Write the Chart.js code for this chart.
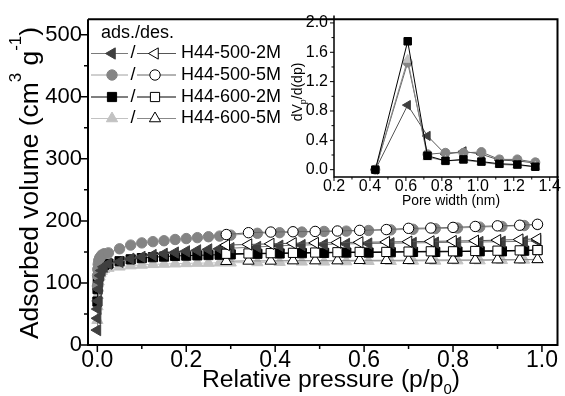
<!DOCTYPE html>
<html>
<head>
<meta charset="utf-8">
<script src="https://cdn.jsdelivr.net/npm/chart.js@4/dist/chart.umd.min.js"></script>
<style>
  html, body { margin: 0; padding: 0; background: #fff; }
  #wrap { position: relative; width: 565px; height: 396px; overflow: hidden; }
  #main { position: absolute; left: 0; top: 0; }
  #inset { position: absolute; left: 280px; top: 0; }
</style>
</head>
<body>
<div id="wrap">
  <canvas id="main" width="565" height="396"></canvas>
  <canvas id="inset" width="285" height="215"></canvas>
</div>
<script>
const FONT = "'Liberation Sans', Arial, sans-serif";
Chart.defaults.font.family = FONT;
Chart.defaults.color = '#000';

// Isotherm: relative pressure (p/p0)
const adsP = [0.0002, 0.0005, 0.001, 0.002, 0.003, 0.005, 0.007, 0.01, 0.015, 0.025, 0.05, 0.075,
  0.10, 0.125, 0.15, 0.175, 0.20, 0.225, 0.25, 0.275, 0.30, 0.36, 0.41, 0.46, 0.51, 0.56,
  0.61, 0.66, 0.71, 0.76, 0.81, 0.86, 0.91, 0.96, 0.99];
const desP = [0.99, 0.95, 0.90, 0.85, 0.80, 0.75, 0.70, 0.65, 0.59, 0.54, 0.49, 0.44, 0.39, 0.34, 0.29];

// Adsorbed volume (cm3/g), adsorption branch
const ads500_2M = [24, 43, 58, 71, 90, 102, 112, 120, 126, 131, 134, 139, 142, 145, 147, 149, 151, 152.5,
  154, 155, 156, 158, 160, 161, 162, 163, 163.5, 164, 164.5, 165, 165.5, 166, 166.5, 167, 168];
const ads500_5M = [95, 112, 122, 130, 136, 140, 142, 145, 147, 148.5, 155, 161, 164.5, 166.5, 168, 170,
  171.5, 173, 174.5, 175.5, 177, 180, 181, 182, 183, 183.5, 184.5, 185.5, 186.5, 187.5, 188.5, 190, 191, 192.5, 194];
const ads600_2M = [70, 90, 102, 110, 115, 120, 123, 126, 129, 131, 135, 138, 140, 141.5, 142.5, 143.5, 144,
  144.5, 145, 145.5, 146, 147, 147.5, 148, 148.5, 149, 149, 149.5, 150, 150, 150.5, 151, 151, 152, 153];
const ads600_5M = [40, 62, 80, 92, 102, 110, 115, 119, 122, 124, 126, 128, 129, 130, 130.5, 131, 131.5,
  132, 132, 132.5, 132.5, 133, 133.5, 134, 134, 134.5, 135, 135, 135.5, 135.5, 136, 136, 136.5, 137, 137.5];

// desorption branch
const des500_2M = [171, 170, 169, 168, 167.5, 167, 166.5, 166, 165.5, 165, 164.5, 164, 163, 162, 161];
const des500_5M = [194.5, 193, 192, 191, 189.5, 188.5, 188, 186, 184.7, 183.7, 183, 182.5, 182, 181, 178];
const des600_2M = [153, 152.5, 152, 151.5, 151, 151, 150.5, 150, 150, 149.5, 149, 148.5, 148, 147.5, 147];
const des600_5M = [138, 137.5, 137.5, 137, 137, 137, 136.5, 136.5, 136.5, 136, 136, 136, 135.5, 135.5, 135];

// Pore size distribution (inset)
const poreW = [0.43, 0.61, 0.72, 0.82, 0.92, 1.02, 1.12, 1.22, 1.32];
const psd500_2M = [0.00, 0.88, 0.46, 0.21, 0.25, 0.21, 0.13, 0.12, 0.09];
const psd500_5M = [0.00, 1.46, 0.21, 0.23, 0.23, 0.24, 0.14, 0.14, 0.10];
const psd600_2M = [0.00, 1.75, 0.19, 0.12, 0.14, 0.11, 0.08, 0.07, 0.04];
const psd600_5M = [0.00, 1.50, 0.17, 0.12, 0.13, 0.10, 0.07, 0.06, 0.04];

const names = ['H44-500-2M', 'H44-500-5M', 'H44-600-2M', 'H44-600-5M'];

// ticks
const xTicks = [0, 0.2, 0.4, 0.6, 0.8, 1.0];
const xMinor = [0.1, 0.3, 0.5, 0.7, 0.9];
const yTicks = [0, 100, 200, 300, 400, 500];
const yMinor = [50, 150, 250, 350, 450];
const poreTicks = [0.2, 0.4, 0.6, 0.8, 1.0, 1.2, 1.4];
const poreMinor = [0.3, 0.5, 0.7, 0.9, 1.1, 1.3];
const psdTicks = [0, 0.4, 0.8, 1.2, 1.6, 2.0];
const psdMinor = [0.2, 0.6, 1.0, 1.4, 1.8];

const adsAll = [ads500_2M, ads500_5M, ads600_2M, ads600_5M];
const desAll = [des500_2M, des500_5M, des600_2M, des600_5M];
const psdAll = [psd500_2M, psd500_5M, psd600_2M, psd600_5M];

const styles = [
  { fill: '#3f3f3f', line: '#7a7a7a', desLine: '#555', shape: 'triangle', rot: -90, r: 6.5 },
  { fill: '#848484', line: '#a0a0a0', desLine: '#666', shape: 'circle', rot: 0, r: 5.2 },
  { fill: '#000000', line: '#000000', desLine: '#000', shape: 'rect', rot: 0, r: 6.5 },
  { fill: '#c2c2c2', line: '#c2c2c2', desLine: '#888', shape: 'triangle', rot: 0, r: 6.5 }
];

function pts(xs, ys) { return xs.map((x, i) => ({ x: x, y: ys[i] })); }

function drawMarker(ctx, s, x, y, r, open) {
  ctx.save();
  ctx.fillStyle = open ? '#fff' : s.fill;
  ctx.strokeStyle = open ? '#000' : s.fill;
  ctx.lineWidth = 1;
  Chart.helpers.drawPoint(ctx, { pointStyle: s.shape, rotation: s.rot, radius: r, borderWidth: 1 }, x, y);
  ctx.restore();
}

// text with super/subscripts, optionally stretched to a target width
function drawRich(ctx, parts, cx, cy, size, rotate, targetW) {
  ctx.save();
  ctx.fillStyle = '#000';
  ctx.textBaseline = 'alphabetic';
  ctx.textAlign = 'left';
  let W = 0;
  const ws = parts.map(p => {
    ctx.font = (p[1] ? Math.round(size * 0.62) : size) + 'px ' + FONT;
    const w = ctx.measureText(p[0]).width;
    W += w;
    return w;
  });
  const k = targetW ? targetW / W : 1;
  ctx.translate(cx, cy);
  if (rotate) ctx.rotate(-Math.PI / 2);
  ctx.scale(k, 1);
  let x = -W / 2;
  parts.forEach((p, i) => {
    ctx.font = (p[1] ? Math.round(size * 0.62) : size) + 'px ' + FONT;
    const dy = p[1] === 'sup' ? -size * 0.68 : p[1] === 'sub' ? size * 0.3 : 0;
    ctx.fillText(p[0], x, dy);
    x += ws[i];
  });
  ctx.restore();
}

function axisDecor(chart, o) {
  const ctx = chart.ctx;
  const a = chart.chartArea;
  const xs = chart.scales.x, ys = chart.scales.y;
  ctx.save();
  ctx.strokeStyle = '#000';
  ctx.lineWidth = o.frameW;
  ctx.beginPath();
  ctx.moveTo(a.left, a.top);
  ctx.lineTo(a.left, a.bottom);
  ctx.lineTo(a.right, a.bottom);
  if (o.box) {
    ctx.lineTo(a.right, a.top);
    ctx.lineTo(a.left, a.top);
  }
  ctx.stroke();
  ctx.lineWidth = o.tickW;
  ctx.beginPath();
  o.xMajor.forEach(v => { const p = xs.getPixelForValue(v); ctx.moveTo(p, a.bottom); ctx.lineTo(p, a.bottom + o.major); });
  o.xMinor.forEach(v => { const p = xs.getPixelForValue(v); ctx.moveTo(p, a.bottom); ctx.lineTo(p, a.bottom + o.minor); });
  o.yMajor.forEach(v => { const p = ys.getPixelForValue(v); ctx.moveTo(a.left, p); ctx.lineTo(a.left - o.major, p); });
  o.yMinor.forEach(v => { const p = ys.getPixelForValue(v); ctx.moveTo(a.left, p); ctx.lineTo(a.left - o.minor, p); });
  ctx.stroke();
  ctx.restore();
}

const mainDecor = {
  id: 'mainDecor',
  afterDraw(chart) {
    const ctx = chart.ctx;
    axisDecor(chart, { frameW: 2, tickW: 1.5, major: 7, minor: 4, box: true,
      xMajor: xTicks, xMinor: xMinor, yMajor: yTicks, yMinor: yMinor });

    drawRich(ctx, [['Relative pressure (p/p'], ['0', 'sub'], [')']], 331, 387, 23, false, 258);
    drawRich(ctx, [['Adsorbed volume (cm'], ['3', 'sup'], [' g'], ['-1', 'sup'], [')']], 38, 183, 25, true, 312);

    // legend
    ctx.save();
    ctx.font = '18px ' + FONT;
    ctx.fillStyle = '#000';
    ctx.textBaseline = 'middle';
    ctx.textAlign = 'left';
    ctx.fillText('ads./des.', 101, 33);
    const rows = [53.5, 75, 97, 118.5];
    rows.forEach((y, i) => {
      const s = styles[i];
      ctx.lineWidth = 1;
      ctx.strokeStyle = s.line;
      ctx.beginPath(); ctx.moveTo(91, y); ctx.lineTo(128, y); ctx.stroke();
      ctx.strokeStyle = s.desLine;
      ctx.beginPath(); ctx.moveTo(137, y); ctx.lineTo(176, y); ctx.stroke();
      drawMarker(ctx, s, 112, y, s.r, false);
      drawMarker(ctx, s, 155, y, s.r, true);
      ctx.fillStyle = '#000';
      ctx.textAlign = 'center';
      ctx.fillText('/', 133, y);
      ctx.textAlign = 'left';
      ctx.fillText(names[i], 181, y);
    });
    ctx.restore();
  }
};

const insetDecor = {
  id: 'insetDecor',
  afterDraw(chart) {
    const ctx = chart.ctx;
    axisDecor(chart, { frameW: 1.5, tickW: 1, major: 4, minor: 2.5, box: false,
      xMajor: poreTicks, xMinor: poreMinor, yMajor: psdTicks, yMinor: psdMinor });
    drawRich(ctx, [['Pore width (nm)']], 171, 205, 14, false, 98);
    drawRich(ctx, [['dV'], ['p', 'sub'], ['/d(dp)']], 22, 92, 14, true, 0);
  }
};

// main isotherm datasets: desorption first so it sits on top
const mainSets = [];
desAll.forEach((d, i) => {
  const s = styles[i];
  mainSets.push({
    label: names[i] + ' des', data: pts(desP, d), showLine: true,
    borderColor: s.desLine, borderWidth: 1,
    pointStyle: s.shape, pointRotation: s.rot, pointRadius: s.r,
    pointBackgroundColor: '#fff', pointBorderColor: '#000', pointBorderWidth: 1
  });
});
adsAll.forEach((d, i) => {
  const s = styles[i];
  mainSets.push({
    label: names[i] + ' ads', data: pts(adsP, d), showLine: true,
    borderColor: s.line, borderWidth: 1,
    pointStyle: s.shape, pointRotation: s.rot, pointRadius: s.r,
    pointBackgroundColor: s.fill, pointBorderColor: s.fill, pointBorderWidth: 1
  });
});

new Chart(document.getElementById('main').getContext('2d'), {
  type: 'scatter',
  data: { datasets: mainSets },
  options: {
    responsive: false,
    animation: false,
    devicePixelRatio: 1,
    layout: { padding: { top: 12, right: 1, left: 0, bottom: 0 } },
    plugins: { legend: { display: false }, tooltip: { enabled: false } },
    scales: {
      x: {
        type: 'linear', min: -0.021, max: 1.035,
        grid: { display: false, drawTicks: false }, border: { display: false },
        afterBuildTicks: s => { s.ticks = xTicks.map(v => ({ value: v })); },
        afterFit: s => { s.height = 51; },
        ticks: { font: { size: 23 }, padding: 2, maxRotation: 0, autoSkip: false, callback: v => Number(v).toFixed(1) }
      },
      y: {
        min: 0, max: 525,
        grid: { display: false, drawTicks: false }, border: { display: false },
        afterBuildTicks: s => { s.ticks = yTicks.map(v => ({ value: v })); },
        afterFit: s => { s.width = 88; },
        ticks: { font: { size: 22 }, padding: 6, autoSkip: false, callback: v => String(v) }
      }
    }
  },
  plugins: [mainDecor]
});

// inset: pore size distribution
const insetSets = psdAll.map((d, i) => {
  const s = styles[i];
  return {
    label: names[i], data: pts(poreW, d), showLine: true,
    borderColor: i === 2 ? '#000' : s.desLine, borderWidth: 1,
    pointStyle: s.shape, pointRotation: s.rot, pointRadius: s.shape === 'circle' ? 4.5 : 5.3,
    pointBackgroundColor: s.fill, pointBorderColor: s.fill, pointBorderWidth: 1
  };
});
// draw order: squares and light triangles on top of the peak
insetSets[0].order = 4; insetSets[1].order = 3; insetSets[3].order = 2; insetSets[2].order = 1;

new Chart(document.getElementById('inset').getContext('2d'), {
  type: 'scatter',
  data: { datasets: insetSets },
  options: {
    responsive: false,
    animation: false,
    devicePixelRatio: 1,
    layout: { padding: { top: 15, right: 2, left: 0, bottom: 0 } },
    plugins: { legend: { display: false }, tooltip: { enabled: false } },
    scales: {
      x: {
        type: 'linear', min: 0.2, max: 1.45,
        grid: { display: false, drawTicks: false }, border: { display: false },
        afterBuildTicks: s => { s.ticks = poreTicks.map(v => ({ value: v })); },
        afterFit: s => { s.height = 38; },
        ticks: { font: { size: 16 }, padding: 0, maxRotation: 0, autoSkip: false, callback: v => Number(v).toFixed(1) }
      },
      y: {
        min: -0.1, max: 2.1,
        grid: { display: false, drawTicks: false }, border: { display: false },
        afterBuildTicks: s => { s.ticks = psdTicks.map(v => ({ value: v })); },
        afterFit: s => { s.width = 54; },
        ticks: { font: { size: 16 }, padding: 6, autoSkip: false, callback: v => Number(v).toFixed(1) }
      }
    }
  },
  plugins: [insetDecor]
});
</script>
</body>
</html>
